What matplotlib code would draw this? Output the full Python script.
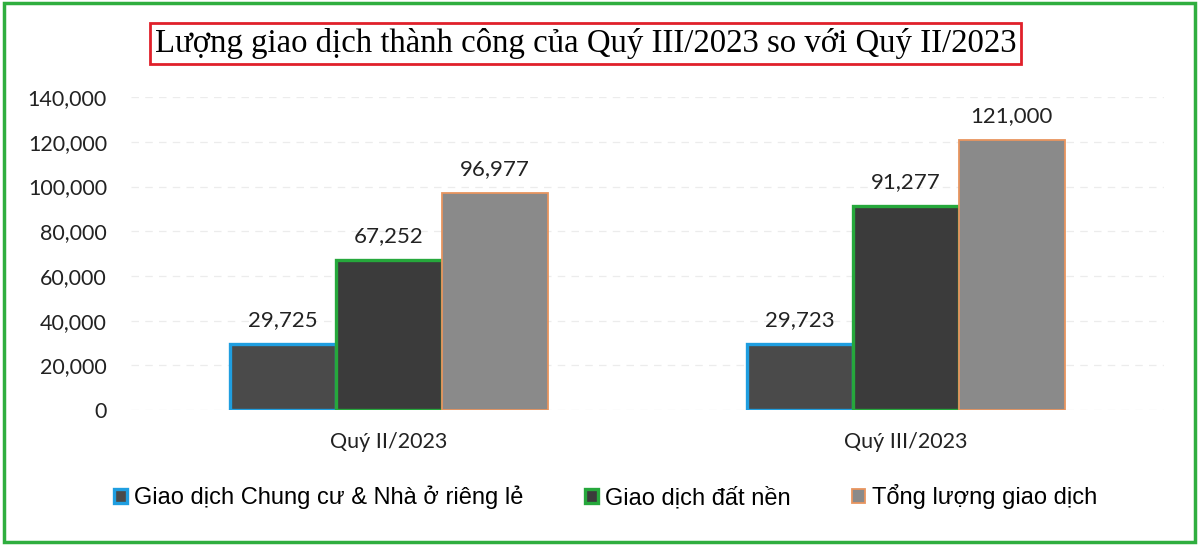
import matplotlib.pyplot as plt
from matplotlib.patches import Rectangle
from matplotlib.ticker import FuncFormatter
import numpy as np

quarters = ['Quý II/2023', 'Quý III/2023']
series_names = ['Giao dịch Chung cư & Nhà ở riêng lẻ', 'Giao dịch đất nền', 'Tổng lượng giao dịch']
chung_cu = [29725, 29723]
dat_nen = [67252, 91277]
tong = [96977, 121000]

fills = ['#4a4a4a', '#3b3b3b', '#8a8a8a']
edges = ['#1f9ee0', '#26a83c', '#e8955f']
edge_w = [2.4, 2.4, 1.3]

fig = plt.figure(figsize=(12, 5.46), dpi=100)
ax = fig.add_axes([0.1088, 0.249, 0.8612, 0.573])

x = np.arange(len(quarters))
w = 0.205
for i, vals in enumerate([chung_cu, dat_nen, tong]):
    bars = ax.bar(x + (i - 1) * w, vals, w, color=fills[i], edgecolor=edges[i],
                  linewidth=edge_w[i], label=series_names[i], zorder=3)
    for b, v in zip(bars, vals):
        ax.annotate(f'{v:,}', (b.get_x() + b.get_width() / 2, v), xytext=(0, 10),
                    textcoords='offset points', ha='center', va='bottom',
                    fontsize=16, family='Lato', color='#222222')

ax.set_xlim(-0.5, 1.5)
ax.set_ylim(0, 140000)
ax.set_yticks(range(0, 140001, 20000))
ax.yaxis.set_major_formatter(FuncFormatter(lambda v, p: f'{int(v):,}'))
ax.set_xticks(x)
ax.set_xticklabels(quarters)
ax.tick_params(length=0)
ax.tick_params(axis='y', labelsize=15.5, pad=17, labelcolor='#222222')
ax.tick_params(axis='x', labelsize=15.5, pad=16, labelcolor='#222222')
for lbl in ax.get_xticklabels() + ax.get_yticklabels():
    lbl.set_family('Lato')
ax.grid(axis='y', color='#ececec', linewidth=0.9, linestyle=(0, (6, 5)), zorder=0)
for s in ax.spines.values():
    s.set_visible(False)

leg = fig.legend(loc='center', bbox_to_anchor=(0.505, 0.09), ncol=3, frameon=False,
                 handlelength=0.55, handleheight=0.55, handletextpad=0.3, columnspacing=2.6,
                 prop={'family': 'Liberation Sans', 'size': 17})

fig.text(0.488, 0.921, 'Lượng giao dịch thành công của Quý III/2023 so với Quý II/2023',
         ha='center', va='center', family='Liberation Serif', fontsize=23.6,
         bbox=dict(boxstyle='square,pad=0.15', facecolor='white', edgecolor='#e0202a', linewidth=2))

fig.patches.append(Rectangle((0.003, 0.007), 0.993, 0.987, transform=fig.transFigure,
                             fill=False, edgecolor='#2fae3f', linewidth=2.5))

fig.savefig('out.png', dpi=100)
